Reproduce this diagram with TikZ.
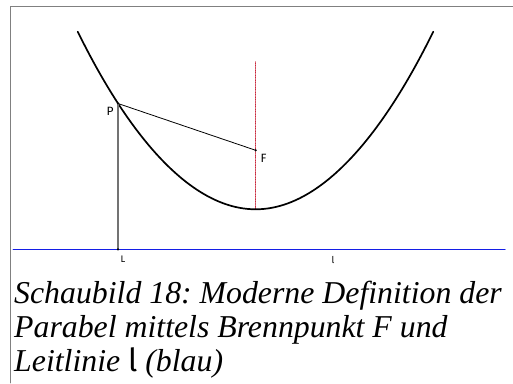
\documentclass[tikz,border=0pt]{standalone}
\usepackage{fontspec}
\setmainfont{Liberation Serif}
\newfontfamily\labfont{Fira Sans}
\definecolor{leitblau}{RGB}{20,30,230}
\definecolor{achsrot}{RGB}{200,40,60}
\frenchspacing

\begin{document}
\begin{tikzpicture}[x=1pt, y=-1pt, line cap=round]
            \useasboundingbox (0,0) rectangle (513,383);

            % Rahmen
            \draw[gray, line width=0.9pt] (10,383) -- (10,6.7) -- (513,6.7);

            % Punkte
            \coordinate (P) at (118,103.5);
            \coordinate (F) at (255.7,150.3);
            \coordinate (L) at (118,249.3);
            \coordinate (S) at (255.7,209.3);

            % Achse (rot gepunktet)
            \draw[achsrot, densely dotted, line width=0.7pt] (255.7,61.7) -- (S);

            % Leitlinie l
            \draw[leitblau, line width=1.3pt] (13.3,249.3) -- (505,249.3);

            % Parabel
            \draw[line width=1.7pt] (77.7,31.7) parabola bend (S) (433.3,31.7);

            % Abstand PF
            \draw[line width=0.8pt] (P) -- (F);

            % Lot von P auf l
            \draw[black!55, line width=1.3pt] (P) -- (L);

            % Punkte und Beschriftung
            \fill (P) circle (1.2pt);
            \fill (F) circle (1.2pt);
            \fill (L) circle (1.2pt);
            \node[font=\labfont\fontsize{12}{13}\selectfont] (Plab) at (110,111) {P};
            \node[font=\labfont\fontsize{12}{13}\selectfont] (Flab) at (263.5,158.7) {F};
            \node[font=\labfont\fontsize{9.5}{10}\selectfont] (Llab) at (123,259.5) {L};
            \node[font=\labfont\fontsize{9.5}{10}\selectfont] (llab) at (333,259.5) {l};

            % Bildunterschrift
            \node[anchor=base west, inner sep=0pt, align=left,
                font=\itshape\fontsize{31.8}{34}\selectfont] (caption) at (14,371)
                {Schaubild 18: Moderne Definition der\\
                 Parabel mittels Brennpunkt F und\\
                 Leitlinie {\labfont\upshape l} (blau)};
        \end{tikzpicture}
\end{document}
